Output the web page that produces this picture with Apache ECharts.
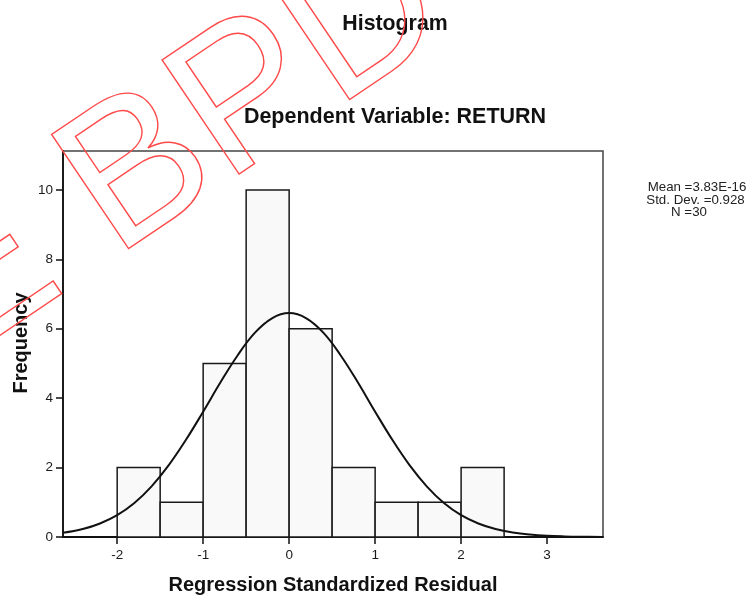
<!DOCTYPE html>
<html>
<head>
<meta charset="utf-8">
<script src="https://cdn.jsdelivr.net/npm/echarts@6/dist/echarts.min.js"></script>
<style>
  html, body { margin: 0; padding: 0; background: #fff; }
  #chart { width: 753px; height: 596px; }
</style>
</head>
<body>
<div id="chart"></div>
<script>
// ---- Data ----
const binStart = [-2.0, -1.5, -1.0, -0.5, 0.0, 0.5, 1.0, 1.5, 2.0];
const binEnd   = [-1.5, -1.0, -0.5, 0.0, 0.5, 1.0, 1.5, 2.0, 2.5];
const frequency = [2, 1, 5, 10, 6, 2, 1, 1, 2];

// Normal curve
const curveX = [-2.63, -2.4, -2.2, -2.0, -1.8, -1.6, -1.4, -1.2, -1.0, -0.8, -0.6, -0.4, -0.2, 0.0,
                0.2, 0.4, 0.6, 0.8, 1.0, 1.2, 1.4, 1.6, 1.8, 2.0, 2.2, 2.4, 2.6, 2.8, 3.0, 3.2, 3.4, 3.65];
const curveY = [0.12, 0.23, 0.39, 0.63, 0.98, 1.46, 2.07, 2.80, 3.61, 4.45, 5.23, 5.88, 6.30, 6.45,
                6.30, 5.88, 5.23, 4.45, 3.61, 2.80, 2.07, 1.46, 0.98, 0.63, 0.39, 0.23, 0.13, 0.07, 0.035, 0.017, 0.008, 0.003];

const xTicks = [-2, -1, 0, 1, 2, 3];
const yTicks = [0, 2, 4, 6, 8, 10];

const titleText = 'Histogram';
const subTitleText = 'Dependent Variable: RETURN';
const xAxisName = 'Regression Standardized Residual';
const yAxisName = 'Frequency';
const statsLines = ['Mean =3.83E-16', 'Std. Dev. =0.928', 'N =30'];
const watermark = 'E BPD';

// ---- Chart ----
const chart = echarts.init(document.getElementById('chart'), null, { renderer: 'canvas' });
const FONT = '"Liberation Sans", Arial, sans-serif';

const barData = binStart.map((s, i) => [s, binEnd[i], frequency[i]]);
const curveData = curveX.map((x, i) => [x, curveY[i]]);

const option = {
  animation: false,
  backgroundColor: '#ffffff',
  grid: {
    left: 63, top: 151, width: 540, height: 386,
    show: true, borderColor: '#444', borderWidth: 1.5, backgroundColor: 'transparent'
  },
  xAxis: {
    type: 'value', min: -2.63, max: 3.65,
    axisLine: { show: true, onZero: false, lineStyle: { color: '#111', width: 1.8 } },
    axisTick: { show: true, length: 7, customValues: xTicks, lineStyle: { color: '#111', width: 1.5 } },
    axisLabel: { customValues: xTicks, color: '#1a1a1a', fontSize: 13.5, fontFamily: FONT, margin: 11 },
    splitLine: { show: false }
  },
  yAxis: {
    type: 'value', min: 0, max: 11.12,
    axisLine: { show: true, onZero: false, lineStyle: { color: '#111', width: 1.8 } },
    axisTick: { show: true, length: 7, customValues: yTicks, lineStyle: { color: '#111', width: 1.5 } },
    axisLabel: { customValues: yTicks, color: '#1a1a1a', fontSize: 13.5, fontFamily: FONT, margin: 10 },
    splitLine: { show: false }
  },
  series: [
    {
      type: 'custom',
      data: barData,
      encode: { x: [0, 1], y: 2 },
      z: 2,
      renderItem: function (params, api) {
        const p0 = api.coord([api.value(0), 0]);
        const p1 = api.coord([api.value(1), api.value(2)]);
        return {
          type: 'rect',
          shape: { x: p0[0], y: p1[1], width: p1[0] - p0[0], height: p0[1] - p1[1] },
          style: { fill: '#f9f9f9', stroke: '#1a1a1a', lineWidth: 1.5 }
        };
      }
    },
    {
      type: 'line',
      data: curveData,
      smooth: 0.4,
      symbol: 'none',
      z: 3,
      lineStyle: { color: '#111', width: 2 }
    }
  ],
  graphic: [
    {
      type: 'text', x: 395, y: 24, z: 10,
      style: { text: titleText, font: 'bold 21.3px ' + FONT, fill: '#111', align: 'center', verticalAlign: 'middle' }
    },
    {
      type: 'text', x: 395, y: 117, z: 10,
      style: { text: subTitleText, font: 'bold 21.5px ' + FONT, fill: '#111', align: 'center', verticalAlign: 'middle' }
    },
    {
      type: 'text', x: 333, y: 585, z: 10,
      style: { text: xAxisName, font: 'bold 20px ' + FONT, fill: '#111', align: 'center', verticalAlign: 'middle' }
    },
    {
      type: 'text', x: 21, y: 343, rotation: Math.PI / 2, z: 10,
      style: { text: yAxisName, font: 'bold 20px ' + FONT, fill: '#111', align: 'center', verticalAlign: 'middle' }
    },
    {
      type: 'text', x: 697, y: 187, z: 10,
      style: { text: statsLines[0], font: '13.3px ' + FONT, fill: '#222', align: 'center', verticalAlign: 'middle' }
    },
    {
      type: 'text', x: 695.5, y: 200, z: 10,
      style: { text: statsLines[1], font: '13.3px ' + FONT, fill: '#222', align: 'center', verticalAlign: 'middle' }
    },
    {
      type: 'text', x: 689, y: 212.5, z: 10,
      style: { text: statsLines[2], font: '13.3px ' + FONT, fill: '#222', align: 'center', verticalAlign: 'middle' }
    },
    {
      type: 'group', x: -34, y: 375, rotation: 34 * Math.PI / 180, z: 100,
      children: [
        {
          type: 'text', x: 0, y: -69, z: 100,
          style: {
            text: watermark, font: '200px ' + FONT,
            fill: 'transparent', stroke: '#ff4a4a', lineWidth: 1.4,
            align: 'left', verticalAlign: 'middle'
          }
        }
      ]
    }
  ]
};
chart.setOption(option);
</script>
</body>
</html>
